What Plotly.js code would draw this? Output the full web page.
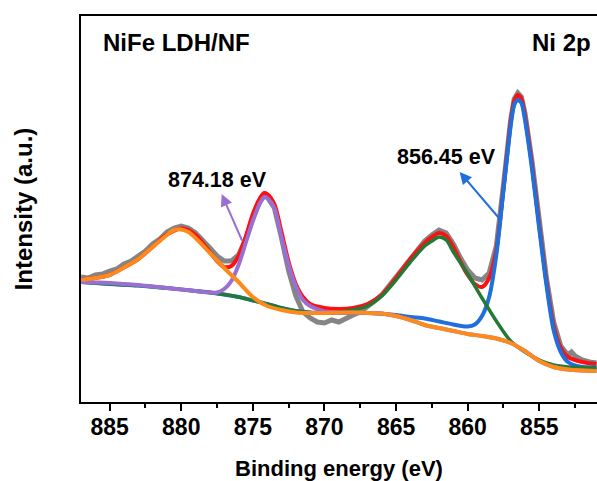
<!DOCTYPE html>
<html>
<head>
<meta charset="utf-8">
<script src="https://cdn.plot.ly/plotly-3.0.1.min.js"></script>
<style>html,body{margin:0;padding:0;background:#fff;}#chart{width:597px;height:481px;}</style>
</head>
<body>
<div id="chart"></div>
<script>
// Binding energy (eV) and intensity (a.u.)
var rawE = [887,886.5,886,885.5,885,884.5,884,883.5,883,882.5,882,881.5,881,880.5,880,879.5,879,878.5,878,877.5,877,876.5,876,875.5,875,874.5,874.2,874,873.5,873,872.5,872,871.5,871,870.5,870,869.5,869,868.5,868,867.5,867,866.5,866,865.5,865,864.5,864,863.5,863,862.5,862,861.5,861,860.5,860,859.5,859,858.5,858,857.5,857,856.75,856.5,856.25,856,855.5,855,854.5,854,853.5,853,852.75,852.5,852,851.5,851];
var rawI = [125,124,127,128,131,133,138,141,146,151,158,163,170,174,176,174,169,162,154,146,141,141,147,163,184,201,206,205,194,164,131,106,90,84,80,79,82,80,84,87,90,95,101,107,116,125,135,145,154,161,167,172,169,158,144,132,124,122,129,156,217,282,303,309,305,289,240,180,124,80,56,47,50,46,42,40,39];

var envE = [887,886,885,884,883,882,881,880,879.5,879,878.5,878,877.5,877,876.5,876,875.5,875,874.5,874.2,874,873.5,873,872.5,872,871.5,871,870,869,868,867,866,865,864,863,862.5,862,861.5,861,860.5,860,859.5,859,858.5,858,857.5,857,856.75,856.5,856.25,856,855.5,855,854.5,854,853.5,853,852,851];
var envI = [122,124,127,134.5,143,155,167.5,173.5,172,167,159,150,141,135,136,146,165,188,204,209,208,198,170,140,118,105,98,94,93,94,98,107,124,143,159,165,169,166,155,140,127,118,115,124,152,214,280,301,307,303,286,236,176,120,76,54,45,40,38];

var satHiE = [887,886,885,884,883,882,881,880.5,880,879.5,879,878,877,876,875,874,873,872,871,870,868,866,865,864,863,862,861,860,859,858,857,856,855,854,853,852,851];
var satHiI = [122,124,127,134.5,143,155,167,172,172.5,170,164,149,134,120,105,96,92,89.5,89,89,89.5,88.5,86,82,77,74,71,68,66,63.5,59,51,41,35,32.5,31.5,31];

var mainHiE = [887,886,885,884,883,882,881,880,879,878,877.5,877,876.5,876,875.5,875,874.5,874.2,874,873.5,873,872.5,872,871.5,871,870,868,866,865,864,863,862,861,860,859,858,857,856,855,854,853,852,851];
var mainHiI = [120,119.5,119,118,117,115.5,114,112.5,111,109.5,109.5,113,121,137,159,181,199,205,204,194,165,137,116,102,96,90.5,89.5,88.5,86,82,77,74,71,68,66,63.5,59,51,41,35,32.5,31.5,31];

var satLoE = [887,885,883,881,879,878,877,876,875,874,873,872,871,870,869,868,867,866,865,864,863,862.5,862,861.5,861,860,859,858,857,856,855,854,853,852,851];
var satLoI = [120,118,116.5,114,111,109.5,107.5,105,101.5,98,94,91,89.5,89,90,92,96,106,122,140,156,161,165,162,150,128,104,81,61,50,42,37,35,34.5,34];

var mainLoE = [887,885,883,881,879,878,877,876,875,874,873,872,871,870,869,867,865,864,863,862,861,860,859.5,859,858.5,858,857.5,857,856.75,856.5,856.25,856,855.5,855,854.5,854,853.5,853,852,851];
var mainLoI = [120,118,116.5,114,111,109.5,107.5,105,101.5,98,94,91,89.5,89,89,89,87,85,83.5,80.5,77.5,75.5,77.5,86,105,147,212,276,297,302,299,282,232,173,117,72,50,40,35,35];

var xTicks = [885,880,875,870,865,860,855];
var labels = ['NiFe LDH/NF','Ni 2p','874.18 eV','856.45 eV'];

var FONT = 'Liberation Sans, Arial, sans-serif';
var traces = [
  {x: rawE, y: rawI, name: 'Raw', line: {color: '#858585', width: 5}},
  {x: envE, y: envI, name: 'Envelope', line: {color: '#ff1010', width: 4, shape: 'spline', smoothing: 0.8}},
  {x: mainLoE, y: mainLoI, name: 'Ni 2p3/2', line: {color: '#1f6fdc', width: 4, shape: 'spline', smoothing: 0.8}},
  {x: satLoE, y: satLoI, name: 'Sat. 2p3/2', line: {color: '#227a36', width: 3.5, shape: 'spline', smoothing: 0.8}},
  {x: mainHiE, y: mainHiI, name: 'Ni 2p1/2', line: {color: '#9a6fd2', width: 4, shape: 'spline', smoothing: 0.8}},
  {x: satHiE, y: satHiI, name: 'Sat. 2p1/2', line: {color: '#ff8a1c', width: 4, shape: 'spline', smoothing: 0.8}}
];
traces.forEach(function(t){ t.type = 'scatter'; t.mode = 'lines'; t.hoverinfo = 'skip'; });

var layout = {
  width: 597, height: 481,
  margin: {l: 81, r: 0, t: 16, b: 79},
  paper_bgcolor: '#fff', plot_bgcolor: '#fff',
  showlegend: false,
  font: {family: FONT, color: '#000'},
  xaxis: {
    range: [887, 850.97],
    tickvals: xTicks,
    ticks: 'outside', ticklen: 7, tickwidth: 2, tickcolor: '#000',
    ticklabelstandoff: -4,
    minor: {dtick: 2.5, tick0: 855, ticks: 'outside', ticklen: 4, tickwidth: 2, tickcolor: '#000'},
    showline: true, linewidth: 2, linecolor: '#000', mirror: true,
    showgrid: false, zeroline: false,
    tickfont: {size: 23, weight: 'bold', family: FONT},
    title: {text: 'Binding energy (eV)', font: {size: 22, weight: 'bold', family: FONT}, standoff: 22}
  },
  yaxis: {
    range: [0, 386],
    showticklabels: false, ticks: '',
    showline: true, linewidth: 2, linecolor: '#000', mirror: false,
    showgrid: false, zeroline: false,
    title: {text: 'Intensity (a.u.)', font: {size: 24, weight: 'bold', family: FONT}, standoff: 40}
  },
  annotations: [
    {x: 885.6, y: 360, text: labels[0], showarrow: false, xanchor: 'left', yanchor: 'middle', font: {size: 24, weight: 'bold', family: FONT}},
    {x: 851.25, y: 360, text: labels[1], showarrow: false, xanchor: 'right', yanchor: 'middle', font: {size: 24, weight: 'bold', family: FONT}},
    {x: 877.5, y: 222, text: labels[2], showarrow: false, xanchor: 'center', yanchor: 'middle', font: {size: 21.5, weight: 'bold', family: FONT}},
    {x: 861.46, y: 245, text: labels[3], showarrow: false, xanchor: 'center', yanchor: 'middle', font: {size: 21.5, weight: 'bold', family: FONT}},
    {x: 877.18, y: 208, ax: 875.71, ay: 160, axref: 'x', ayref: 'y', text: '', showarrow: true, arrowhead: 2, arrowsize: 1.2, arrowwidth: 2, arrowcolor: '#9a6fd2', standoff: 0, startstandoff: 0},
    {x: 860.56, y: 230, ax: 857.76, ay: 183, axref: 'x', ayref: 'y', text: '', showarrow: true, arrowhead: 2, arrowsize: 1.2, arrowwidth: 2, arrowcolor: '#1f6fdc', standoff: 0, startstandoff: 0}
  ]
};

Plotly.newPlot('chart', traces, layout, {staticPlot: true, displayModeBar: false});
</script>
</body>
</html>
